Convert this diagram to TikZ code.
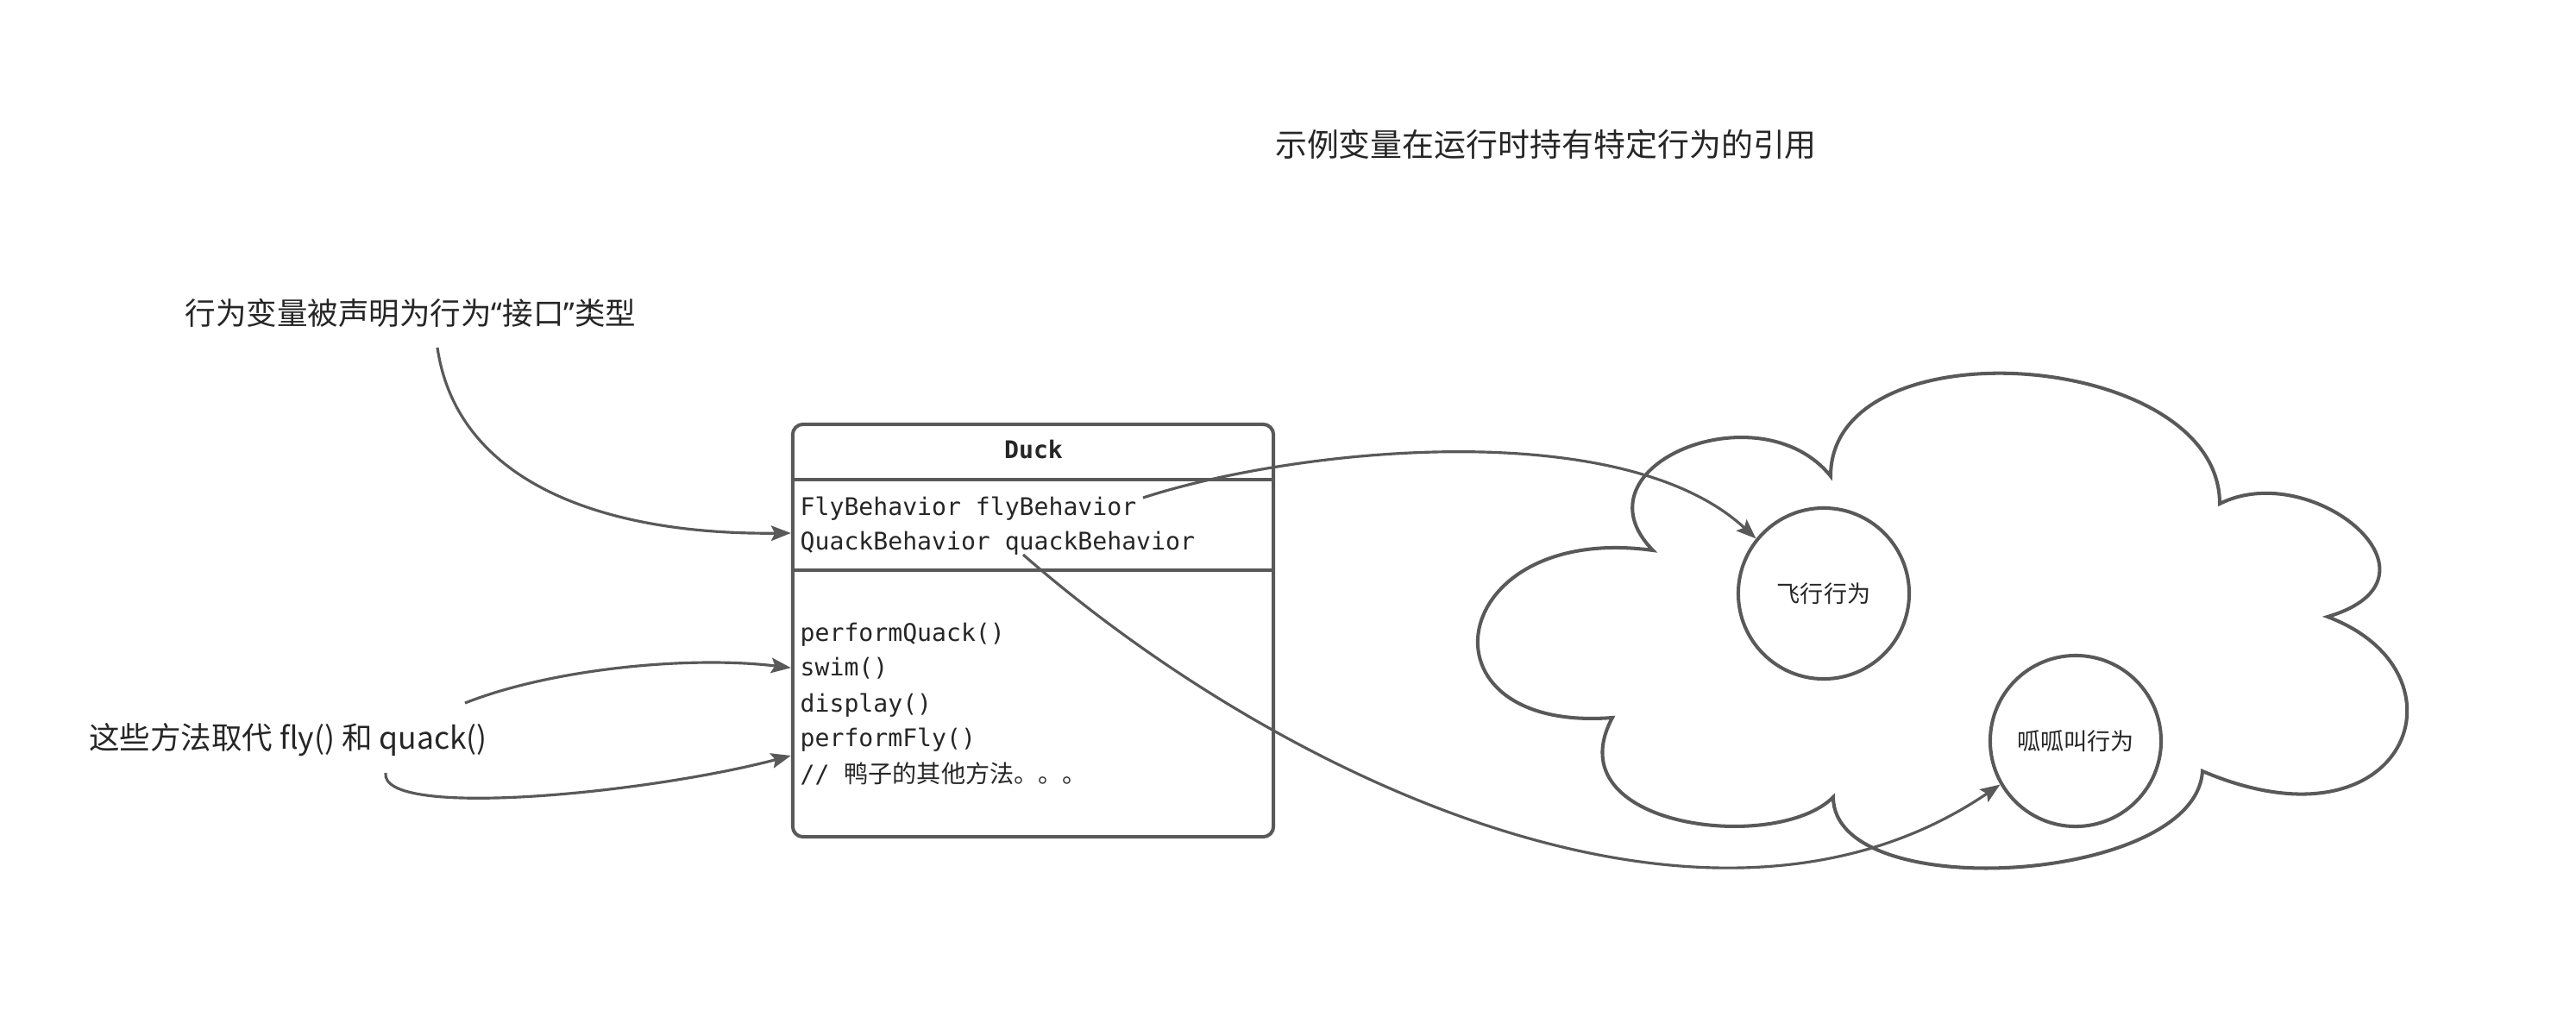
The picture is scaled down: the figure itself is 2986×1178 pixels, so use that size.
\documentclass[tikz,border=0pt]{standalone}
\usepackage{fontspec}
\setmainfont{Noto Sans CJK SC}
\setmonofont{DejaVu Sans Mono}
\newfontfamily\cjk{Noto Sans CJK SC}
\newfontfamily\latin{Noto Sans}
\usetikzlibrary{arrows.meta}
\definecolor{linegray}{HTML}{595959}
\definecolor{inkgray}{HTML}{262626}

\begin{document}
\begin{tikzpicture}[x=0.01cm, y=-0.01cm]
\tikzstyle{note}=[font=\fontsize{10.1pt}{12pt}\selectfont, text=inkgray, inner sep=0pt]
\tikzstyle{heading}=[note, font=\fontsize{10.5pt}{13pt}\selectfont]
\tikzstyle{member}=[font=\fontsize{8pt}{10pt}\ttfamily, text=inkgray, inner sep=0pt, anchor=base west]
\tikzstyle{umlbox}=[draw=linegray, line width=1.15pt, rounded corners=0.12cm, minimum width=5.57cm, minimum height=4.78cm, inner sep=0pt]
\tikzstyle{sep}=[draw=linegray, line width=1.15pt]
\tikzstyle{behavior}=[draw=linegray, line width=1.15pt, circle, minimum size=1.98cm, inner sep=0pt, font=\fontsize{7.7pt}{9pt}\selectfont, text=inkgray]
\tikzstyle{link}=[draw=linegray, line width=0.9pt, -{Stealth[length=6.5pt, width=5pt, inset=1.2pt]}]
\useasboundingbox (0,0) rectangle (2986,1178);
\node[heading] (title) at (1792,167) {示例变量在运行时持有特定行为的引用};
\node[note] (iface) at (476,363) {行为变量被声明为行为{\latin “}接口{\latin ”}类型};
\node[note] (replace) at (334,858) {这些方法取代 fly() 和 quack()};
\node[umlbox] (duck) at (1197.5,731) {};
\draw[sep] (duck.west |- 0,556) -- (duck.east |- 0,556);
\draw[sep] (duck.west |- 0,661) -- (duck.east |- 0,661);
\node[member, anchor=base, font=\fontsize{8pt}{10pt}\ttfamily\bfseries] (duckname) at (1198,531) {Duck};
\node[member] (flyf) at (927,597) {FlyBehavior flyBehavior};
\node[member] (quackf) at (927,637) {QuackBehavior quackBehavior};
\node[member] (pquack) at (927,743) {performQuack()};
\node[member] (swimm) at (927,783) {swim()};
\node[member] (displaym) at (927,825) {display()};
\node[member] (pfly) at (927,865) {performFly()};
\node[member] (others) at (927,907) {// {\cjk 鸭子的其他方法。。。}};
\draw[sep] (1916,638) .. controls (1820,540) and (2040,450) .. (2122,552)
  .. controls (2122,373) and (2573,405) .. (2573,584)
  .. controls (2680,530) and (2850,670) .. (2698,715)
  .. controls (2870,780) and (2790,995) .. (2553,894)
  .. controls (2545,1025) and (2125,1050) .. (2125,924)
  .. controls (2060,990) and (1800,960) .. (1869,832)
  .. controls (1635,850) and (1675,605) .. (1916,638) -- cycle;
\node[behavior] (flyb) at (2114,688) {飞行行为};
\node[behavior] (quackb) at (2406,859) {呱呱叫行为};
\coordinate (s1) at (507,403);
\coordinate (s2) at (539,815);
\coordinate (s3) at (447,896);
\coordinate (s4) at (1325,577);
\coordinate (s5) at (1186,643);
\draw[link] (s1) .. controls (530,560) and (700,620) .. (duck.west |- 0,618);
\draw[link] (s2) .. controls (640,775) and (800,760) .. (duck.west |- swimm);
\draw[link] (s3) .. controls (440,950) and (750,920) .. (duck.west |- 0,876);
\draw[link] (s4) .. controls (1500,520) and (1880,480) .. (flyb.141);
\draw[link] (s5) .. controls (1480,900) and (1980,1140) .. (quackb.210);
\end{tikzpicture}
\end{document}
